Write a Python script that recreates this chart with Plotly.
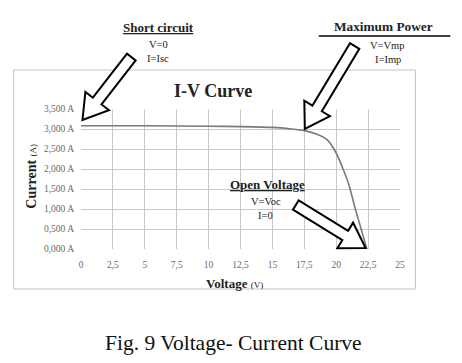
import plotly.graph_objects as go
import math

# ---- data ----
voltage = [0, 5, 10, 12.5, 15, 16.5, 17.5, 18.5, 19.3, 20, 20.6, 21, 21.5, 22, 22.4]
current = [3.08, 3.08, 3.07, 3.06, 3.04, 3.0, 2.96, 2.87, 2.73, 2.4, 1.95, 1.6, 1.0, 0.45, 0.0]
x_ticks = [0, 2.5, 5, 7.5, 10, 12.5, 15, 17.5, 20, 22.5, 25]
x_tick_labels = ["0", "2,5", "5", "7,5", "10", "12,5", "15", "17,5", "20", "22,5", "25"]
y_ticks = [0, 0.5, 1.0, 1.5, 2.0, 2.5, 3.0, 3.5]
y_tick_labels = ["0,000 A", "0,500 A", "1,000 A", "1,500 A", "2,000 A", "2,500 A", "3,000 A", "3,500 A"]

W_FIG, H_FIG = 462, 363
L, R, T, B = 80.5, 400.5, 109, 249
PW, PH = R - L, B - T
SERIF = "Liberation Serif"


def px(x):
    return (x - L) / PW


def py(y):
    return (B - y) / PH


def block_arrow(tail, tip, shaft=5.5, head=15, head_len=24):
    tx, ty = tail
    hx, hy = tip
    dx, dy = hx - tx, hy - ty
    ln = math.hypot(dx, dy)
    ux, uy = dx / ln, dy / ln
    nx, ny = -uy, ux
    bx, by = hx - ux * head_len, hy - uy * head_len
    pts = [
        (tx + nx * shaft, ty + ny * shaft),
        (bx + nx * shaft, by + ny * shaft),
        (bx + nx * head, by + ny * head),
        (hx, hy),
        (bx - nx * head, by - ny * head),
        (bx - nx * shaft, by - ny * shaft),
        (tx - nx * shaft, ty - ny * shaft),
    ]
    return "M " + " L ".join(f"{px(a):.4f},{py(b):.4f}" for a, b in pts) + " Z"


fig = go.Figure()
fig.add_trace(go.Scatter(x=voltage, y=current, mode="lines",
                         line=dict(color="#7a7a7a", width=1.6, shape="spline", smoothing=0.6),
                         hoverinfo="skip", showlegend=False))

shapes = []
# outer chart border
shapes.append(dict(type="rect", xref="paper", yref="paper",
                   x0=px(13), x1=px(416), y0=py(289), y1=py(70),
                   line=dict(color="#c4c4c4", width=1), layer="below"))
# arrows
for tail, tip in [((131, 57), (82, 120)), ((355, 46), (305, 129)), ((296, 205), (366, 248))]:
    shapes.append(dict(type="path", xref="paper", yref="paper", path=block_arrow(tail, tip),
                       fillcolor="white", line=dict(color="black", width=2)))
# Maximum power underline
shapes.append(dict(type="line", xref="paper", yref="paper",
                   x0=px(319), x1=px(451), y0=py(36), y1=py(36),
                   line=dict(color="black", width=1.3)))

ann = []


def text(x, y, s, size, bold=False, color="#222", angle=0):
    ann.append(dict(xref="paper", yref="paper", x=px(x), y=py(y), text=(f"<b>{s}</b>" if bold else s),
                    showarrow=False, xanchor="center", yanchor="middle", textangle=angle,
                    font=dict(family=SERIF, size=size, color=color)))


text(213, 91, "I-V Curve", 18, bold=True)
text(158, 27, "<u>Short circuit</u>", 13, bold=True)
text(158, 44, "V=0", 10.5)
text(158, 59, "I=Isc", 10.5)
text(384, 26, "Maximum Power", 13.3, bold=True)
text(388, 45, "V=Vmp", 10.5)
text(388, 60, "I=Imp", 10.5)
text(268, 184, "<u>Open Voltage</u>", 13, bold=True)
text(266, 201, "V=Voc", 10.5)
text(266, 215, "I=0", 10.5)
text(234, 283, "Voltage <span style='font-size:9px;font-weight:normal'>(V)</span>", 13, bold=True)
text(30, 176, "Current <span style='font-size:9px;font-weight:normal'>(A)</span>", 14, bold=True, angle=-90)
text(233, 343, "Fig. 9 Voltage- Current Curve", 21.5, color="#111")

fig.update_layout(
    width=W_FIG, height=H_FIG,
    margin=dict(l=L, r=W_FIG - R, t=T, b=H_FIG - B, pad=0),
    paper_bgcolor="white", plot_bgcolor="white",
    shapes=shapes, annotations=ann,
    xaxis=dict(range=[0, 25], tickvals=x_ticks, ticktext=x_tick_labels, showgrid=True,
               gridcolor="#c8c8c8", gridwidth=1, zeroline=False, showline=False, ticks="",
               ticklabelstandoff=8, tickfont=dict(family=SERIF, size=9.5, color="#6a6a6a"),
               fixedrange=True),
    yaxis=dict(range=[0, 3.5], tickvals=y_ticks, ticktext=y_tick_labels, showgrid=True,
               gridcolor="#c8c8c8", gridwidth=1, zeroline=False, showline=False, ticks="",
               ticklabelstandoff=6, tickfont=dict(family=SERIF, size=9.5, color="#6a6a6a"),
               fixedrange=True),
)
fig.write_html("out.html")
